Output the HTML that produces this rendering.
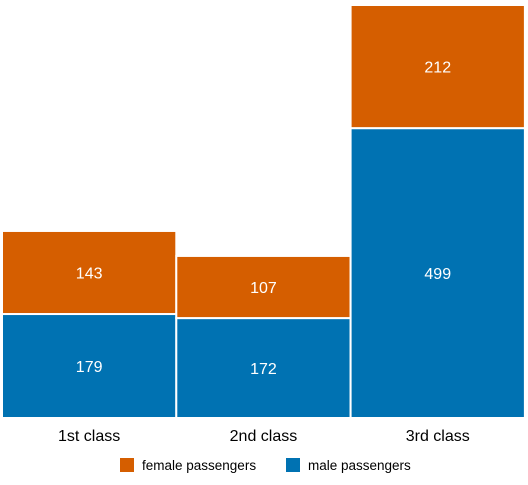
<!DOCTYPE html>
<html><head><meta charset="utf-8"><style>
body{margin:0;background:#fff;}
text{font-family:"Liberation Sans",sans-serif;}
</style></head><body>
<svg id="chart" width="528" height="480"></svg>
<script>
const categories = ["1st class","2nd class","3rd class"];
const maleValues = [179,172,499];
const femaleValues = [143,107,212];
const seriesNames = ["female passengers","male passengers"];
const colors = {female:"#D55E00", male:"#0072B2"};
const svg = document.getElementById('chart');
const NS = "http://www.w3.org/2000/svg";
const base = 418, top0 = 5, maxTotal = 711;
const scale = (base - top0) / maxTotal;
const y = v => base - v * scale;
const x0 = 2, bw = 174.3;
const xBand = i => x0 + i * bw;
function mk(tag, attrs){const e=document.createElementNS(NS,tag);for(const k in attrs)e.setAttribute(k,attrs[k]);svg.appendChild(e);return e;}
categories.forEach((c,i)=>{
  const m = maleValues[i], f = femaleValues[i];
  const r1 = mk('rect',{x:xBand(i),y:y(m),width:bw,height:m*scale,fill:colors.male,stroke:'#fff','stroke-width':2});
  
  
  const r2 = mk('rect',{x:xBand(i),y:y(m+f),width:bw,height:f*scale,fill:colors.female,stroke:'#fff','stroke-width':2});
  
  
  const t1 = mk('text',{x:xBand(i)+bw/2,y:y(m/2)+6,'text-anchor':'middle',fill:'#fff','font-size':16});
  t1.textContent = m;
  
  
  const t2 = mk('text',{x:xBand(i)+bw/2,y:y(m+f/2)+6,'text-anchor':'middle',fill:'#fff','font-size':16});
  t2.textContent = f;
  
  
  const t3 = mk('text',{x:xBand(i)+bw/2,y:441,'text-anchor':'middle',fill:'#000','font-size':16});
  t3.textContent = c;
  
  
});
const lg = [[120,colors.female,seriesNames[0]],[286,colors.male,seriesNames[1]]];
lg.forEach(([lx,col,name])=>{
  const r = mk('rect',{x:lx,y:458,width:14,height:14,fill:col});
  
  
  const t = mk('text',{x:lx+22,y:470,fill:'#000','font-size':13.5});
  t.textContent = name;
  
  
});
</script>
</body></html>
